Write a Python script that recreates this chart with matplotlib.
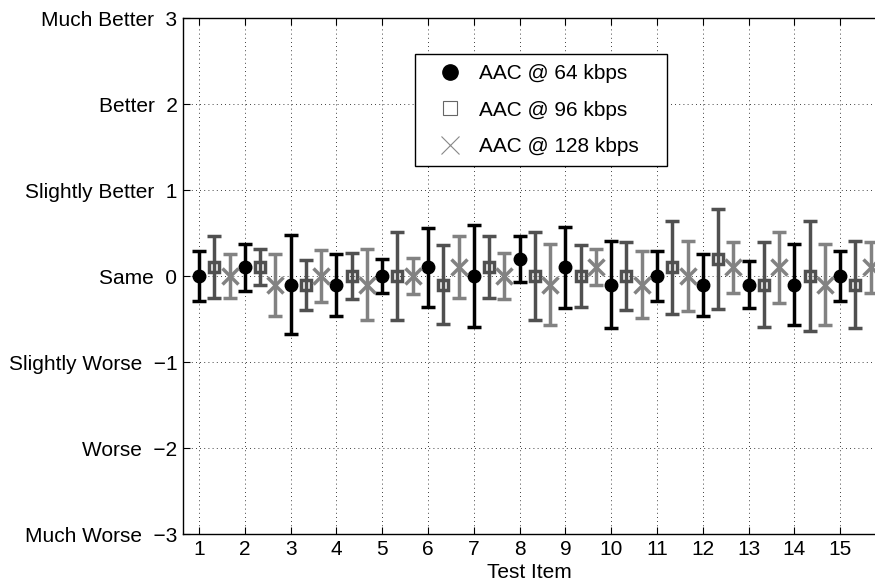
import numpy as np
import matplotlib
matplotlib.use('Agg')
import matplotlib.pyplot as plt
from matplotlib.lines import Line2D

plt.rcParams['font.family'] = ['Liberation Sans', 'DejaVu Sans']

items = np.arange(1, 16)
# mean score and 95% interval half-width per item
m64 = [0, 0.1, -0.1, -0.1, 0, 0.1, 0, 0.2, 0.1, -0.1, 0, -0.1, -0.1, -0.1, 0]
e64 = [0.29, 0.27, 0.58, 0.36, 0.2, 0.46, 0.59, 0.27, 0.47, 0.51, 0.29, 0.36, 0.27, 0.47, 0.29]
m96 = [0.1, 0.1, -0.1, 0, 0, -0.1, 0.1, 0, 0, 0, 0.1, 0.2, -0.1, 0, -0.1]
e96 = [0.36, 0.21, 0.29, 0.27, 0.51, 0.46, 0.36, 0.51, 0.36, 0.39, 0.54, 0.58, 0.49, 0.64, 0.51]
m128 = [0, -0.1, 0, -0.1, 0, 0.1, 0, -0.1, 0.1, -0.1, 0, 0.1, 0.1, -0.1, 0.1]
e128 = [0.26, 0.36, 0.3, 0.41, 0.21, 0.36, 0.27, 0.47, 0.21, 0.39, 0.41, 0.3, 0.41, 0.47, 0.3]

labels = ['AAC @ 64 kbps', 'AAC @ 96 kbps', 'AAC @ 128 kbps']
yticks = [-3, -2, -1, 0, 1, 2, 3]
ynames = ['Much Worse', 'Worse', 'Slightly Worse', 'Same',
          'Slightly Better', 'Better', 'Much Better']

c64, c96, c128 = 'black', '#505050', '#828282'
fs = 15

fig = plt.figure(figsize=(8.75, 5.83), dpi=100)
ax = fig.add_axes([183/875, 49/583, 692/875, 516/583])

ax.errorbar(items, m64, yerr=e64, fmt='o', color=c64, ms=9, lw=2.5,
            capsize=5, capthick=2.5, zorder=3)
ax.errorbar(items + 1/3, m96, yerr=e96, fmt='s', color=c96, mfc='none',
            ms=7, mew=2.5, lw=2.5, capsize=5, capthick=2.5, zorder=3)
ax.errorbar(items + 2/3, m128, yerr=e128, fmt='x', color=c128, ms=11,
            mew=2.5, lw=2.5, capsize=5, capthick=2.5, zorder=3)

ax.set_xlim(0.65, 15.76)
ax.set_ylim(-3, 3)
ax.set_xticks(items)
ax.set_yticks(yticks)
ax.set_yticklabels([f'{n}  {v}'.replace('-', '\u2212') for n, v in zip(ynames, yticks)])
ax.tick_params(direction='in', length=5, labelsize=fs, pad=4, top=True)
ax.grid(True, linestyle=(0, (1, 4)), color='black', linewidth=0.6)
ax.spines['right'].set_visible(False)
for s in ax.spines.values():
    s.set_linewidth(1)
ax.set_xlabel('Test Item', fontsize=fs, labelpad=3)

handles = [
    Line2D([], [], ls='none', marker='o', color='black', ms=11),
    Line2D([], [], ls='none', marker='s', mfc='none', mec='#666666', ms=10, mew=0.8),
    Line2D([], [], ls='none', marker='x', color='#888888', ms=13, mew=0.8),
]
leg_w, leg_h = 252/692, 112/516
leg = ax.legend(handles, labels, loc='upper left',
                bbox_to_anchor=(0.335, 0.93 - leg_h, leg_w, leg_h), mode='expand',
                borderaxespad=0, fontsize=fs, frameon=True, fancybox=False,
                edgecolor='black', framealpha=1, labelspacing=0.84,
                handlelength=2.4, handletextpad=0.2, borderpad=0.48)
leg.get_frame().set_linewidth(1)

fig.savefig('out.png', dpi=100)
